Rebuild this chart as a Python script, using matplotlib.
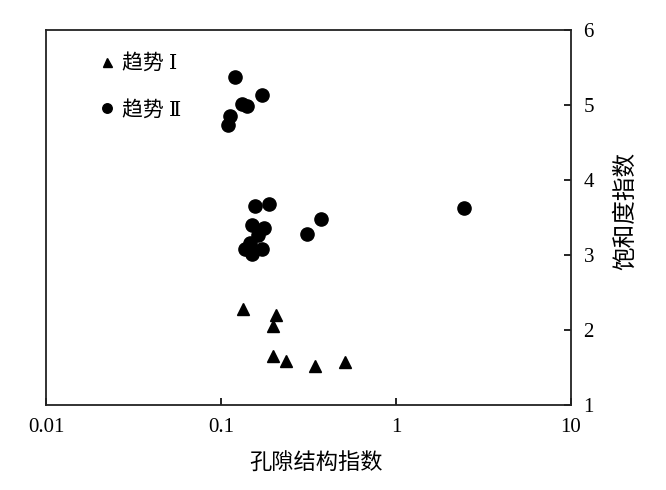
import matplotlib
matplotlib.use("Agg")
import matplotlib.pyplot as plt

# trend I (triangles)
t1_x = [0.133, 0.206, 0.199, 0.199, 0.234, 0.344, 0.511]
t1_y = [2.28, 2.20, 2.06, 1.65, 1.59, 1.52, 1.57]

# trend II (circles)
t2_x = [0.120, 0.171, 0.131, 0.140, 0.1126, 0.109,
        0.156, 0.188, 0.150, 0.176, 0.163, 0.146, 0.137, 0.150, 0.171,
        0.309, 0.373, 2.45]
t2_y = [5.37, 5.13, 5.02, 4.98, 4.86, 4.73,
        3.65, 3.68, 3.40, 3.36, 3.27, 3.16, 3.08, 3.01, 3.08,
        3.28, 3.48, 3.63]

x_ticks = [0.01, 0.1, 1, 10]
x_ticklabels = ["0.01", "0.1", "1", "10"]
y_ticks = [1, 2, 3, 4, 5, 6]

cjk = ["Noto Sans CJK SC", "DejaVu Sans"]
serif = ["Liberation Serif", "DejaVu Serif"]
# serif roman numerals, CJK glyphs fall through to Noto
legend_fonts = ["Liberation Serif", "DejaVu Serif", "Noto Sans CJK SC"]

fig = plt.figure(figsize=(6.66, 4.90), dpi=100)
ax = fig.add_axes([46 / 666, 1 - 405 / 490, 525 / 666, 375 / 490])

ax.plot(t1_x, t1_y, ls="none", marker="^", ms=9, color="black", label="趋势 Ⅰ")
ax.plot(t2_x, t2_y, ls="none", marker="o", ms=9.5, color="black", label="趋势 Ⅱ")

ax.set_xscale("log")
ax.set_xlim(0.01, 10)
ax.set_ylim(1, 6)
ax.set_xticks(x_ticks)
ax.set_xticklabels(x_ticklabels)
ax.minorticks_off()
ax.set_yticks(y_ticks)
ax.set_yticklabels([str(v) for v in y_ticks])

ax.yaxis.tick_right()
ax.tick_params(axis="both", direction="in", length=5, width=1.2,
               labelsize=15, colors="black")
ax.tick_params(axis="x", pad=9)
ax.tick_params(axis="y", pad=9)
for lab in ax.get_xticklabels() + ax.get_yticklabels():
    lab.set_family(serif)

for sp in ax.spines.values():
    sp.set_linewidth(1.3)
    sp.set_color("#222222")

fig.text(316 / 666, 1 - 463 / 490, "孔隙结构指数", family=cjk, fontsize=16,
         ha="center", va="center")
fig.text(626 / 666, 1 - 211 / 490, "饱和度指数", family=cjk, fontsize=17,
         ha="center", va="center", rotation=90)

leg = ax.legend(loc="upper left", bbox_to_anchor=(99 / 666, 1 - 54 / 490),
                bbox_transform=fig.transFigure, frameon=False, borderpad=0,
                borderaxespad=0, handlelength=0.8, handletextpad=0.3,
                labelspacing=1.27, markerscale=0.72,
                prop={"family": legend_fonts, "size": 15})

fig.savefig("out.png", dpi=100)
